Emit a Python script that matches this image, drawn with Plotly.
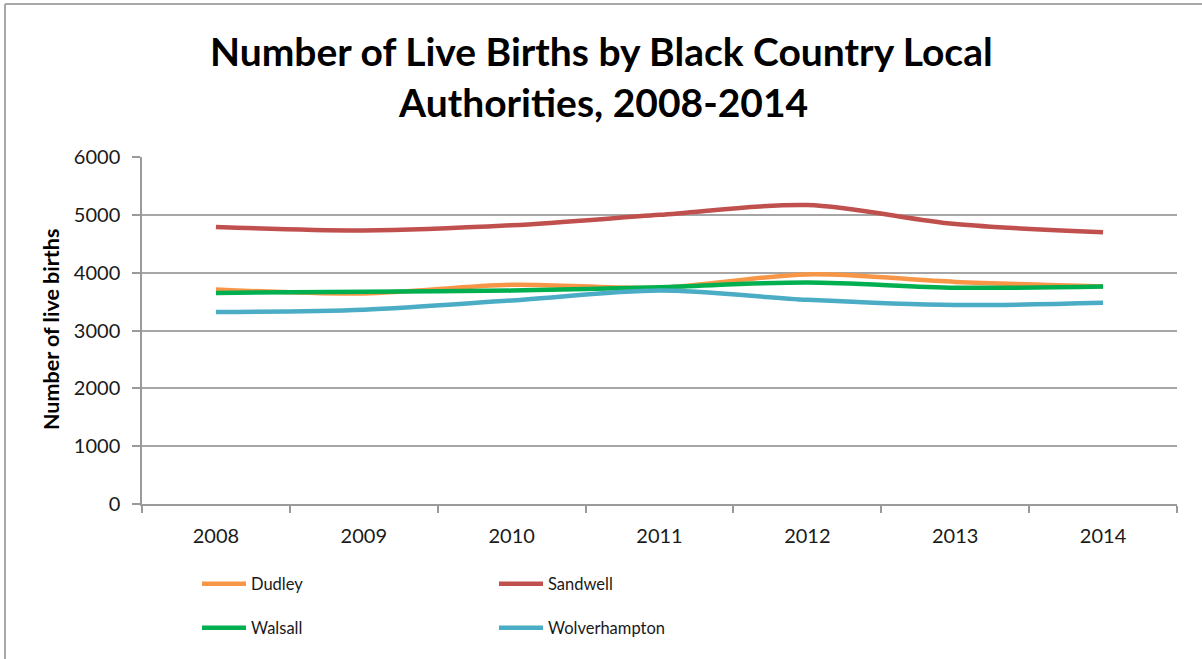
import plotly.graph_objects as go

years = ["2008", "2009", "2010", "2011", "2012", "2013", "2014"]
dudley = [3710, 3640, 3790, 3740, 3970, 3840, 3760]
sandwell = [4790, 4730, 4820, 5000, 5170, 4840, 4700]
walsall = [3650, 3670, 3690, 3750, 3830, 3740, 3760]
wolverhampton = [3320, 3360, 3520, 3690, 3530, 3440, 3480]

series = [
    ("Dudley", dudley, "#F79646", "legend"),
    ("Sandwell", sandwell, "#C0504D", "legend"),
    ("Walsall", walsall, "#00B050", "legend2"),
    ("Wolverhampton", wolverhampton, "#4BACC6", "legend2"),
]

FONT = "Lato"
fig = go.Figure()
for name, vals, color, lg in series:
    fig.add_trace(go.Scatter(
        x=years, y=vals, name=name, mode="lines",
        line=dict(color=color, width=4.5, shape="spline", smoothing=0.9),
        legend=lg,
    ))

W, H = 1202, 659
L, R, T, B = 142, 1177, 157, 504
def px(x):
    return (x - L) / (R - L)
def py(y):
    return (B - y) / (B - T)

legend_common = dict(
    orientation="h", xanchor="left", yanchor="middle",
    font=dict(family=FONT, size=16.5, color="#1a1a1a"),
    entrywidth=238, entrywidthmode="pixels", bgcolor="rgba(0,0,0,0)",
    itemwidth=44,
    itemclick=False, itemdoubleclick=False,
)

fig.update_layout(
    width=W, height=H,
    margin=dict(l=L, r=W - R, t=T, b=H - B, pad=0),
    paper_bgcolor="white", plot_bgcolor="white",
    font=dict(family=FONT, color="#1a1a1a"),
    showlegend=True,
    legend=dict(x=px(197), y=py(584), **legend_common),
    legend2=dict(x=px(197), y=py(628), **legend_common),
    xaxis=dict(
        type="category", range=[-0.5, 6.5],
        showline=True, linecolor="#9a9a9a", linewidth=1.5,
        ticks="outside", tickson="boundaries", ticklen=7, tickcolor="#9a9a9a", tickwidth=1.5,
        showgrid=False, ticklabelstandoff=13,
        tickfont=dict(family=FONT, size=20, color="#1a1a1a"),
        fixedrange=True,
    ),
    yaxis=dict(
        range=[0, 6000], dtick=1000, tick0=0,
        showline=True, linecolor="#9a9a9a", linewidth=1.5,
        ticks="outside", ticklen=8, tickcolor="#9a9a9a", tickwidth=1.5,
        showgrid=True, gridcolor="#a6a6a6", gridwidth=1.5,
        zeroline=False, ticklabelstandoff=8,
        tickfont=dict(family=FONT, size=20, color="#1a1a1a"),
        fixedrange=True,
    ),
    annotations=[
        dict(text="<b>Number of Live Births by Black Country Local</b>", x=0.5, y=py(51),
             xref="paper", yref="paper", xanchor="center", yanchor="middle", showarrow=False,
             xshift=601 - (L + R) / 2,
             font=dict(family=FONT, size=39, color="#000000")),
        dict(text="<b>Authorities, 2008-2014</b>", x=0.5, y=py(102),
             xref="paper", yref="paper", xanchor="center", yanchor="middle", showarrow=False,
             xshift=603 - (L + R) / 2,
             font=dict(family=FONT, size=39, color="#000000")),
        dict(text="<b>Number of live births</b>", x=px(51), y=py(330),
             xref="paper", yref="paper", xanchor="center", yanchor="middle", showarrow=False,
             textangle=-90, font=dict(family=FONT, size=21.5, color="#000000")),
    ],
    shapes=[
        dict(type="line", xref="paper", yref="paper", x0=px(5), x1=px(5), y0=py(4), y1=py(700),
             line=dict(color="#a8a8a8", width=2)),
        dict(type="line", xref="paper", yref="paper", x0=px(5), x1=px(1300), y0=py(4), y1=py(4),
             line=dict(color="#a8a8a8", width=2)),
    ],
)

fig.write_html("out.html", config={"displayModeBar": False},
               post_script="document.body.style.margin='0';")
